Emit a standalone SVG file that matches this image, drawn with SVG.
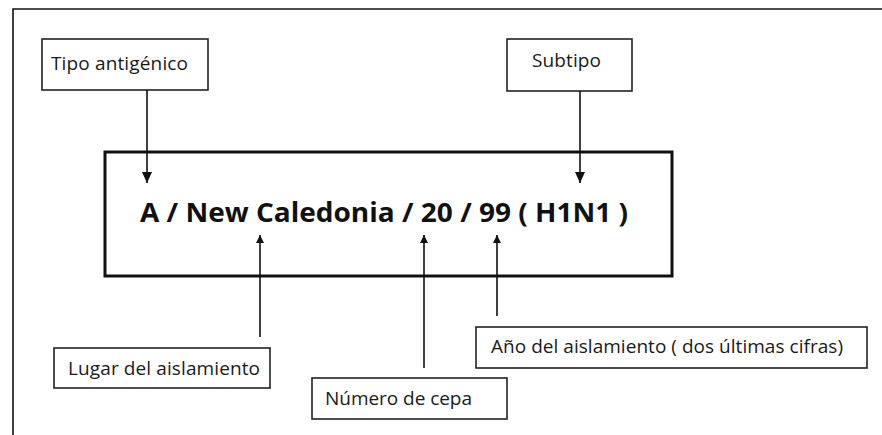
<svg xmlns="http://www.w3.org/2000/svg" width="882" height="435" viewBox="0 0 882 435">
<style>
.box{fill:#fff;stroke:#222;stroke-width:1.6}
.lbl{font-family:"Open Sans","Liberation Sans",sans-serif;font-size:19px;fill:#1a1a1a}
.main{font-family:"Open Sans","Liberation Sans",sans-serif;font-size:26px;font-weight:bold;fill:#111}
.con{stroke:#111;stroke-width:1.6;fill:none}
</style>
<defs>
<marker id="ah" markerUnits="userSpaceOnUse" markerWidth="12" markerHeight="10" refX="11" refY="5" orient="auto">
<path d="M0,0 L11,5 L0,10 z" fill="#111"/>
</marker>
<marker id="ahs" markerUnits="userSpaceOnUse" markerWidth="9" markerHeight="8" refX="8" refY="4" orient="auto">
<path d="M0,0 L8,4 L0,8 z" fill="#111"/>
</marker>
</defs>
<rect width="882" height="435" fill="#fff"/>
<g id="frame">
<path d="M13,435 L13,9 L882,9" fill="none" stroke="#111" stroke-width="1.6"/>
</g>
<g id="main">
<rect x="105" y="152" width="567" height="124" fill="#fff" stroke="#111" stroke-width="3"/>
<text class="main" x="140" y="222" textLength="488" lengthAdjust="spacingAndGlyphs">A / New Caledonia / 20 / 99 ( H1N1 )</text>
</g>
<g id="tipo">
<rect class="box" x="42" y="39" width="166" height="51"/>
<text class="lbl" x="51" y="70" textLength="137">Tipo antigénico</text>
</g>
<g id="subtipo">
<rect class="box" x="507" y="39" width="125" height="52"/>
<text class="lbl" x="532" y="67" textLength="69">Subtipo</text>
</g>
<g id="lugar">
<rect class="box" x="54" y="348" width="216" height="40"/>
<text class="lbl" x="68" y="375" textLength="192">Lugar del aislamiento</text>
</g>
<g id="numero">
<rect class="box" x="312" y="378" width="195" height="41"/>
<text class="lbl" x="325" y="405" textLength="147">Número de cepa</text>
</g>
<g id="anio">
<rect class="box" x="476" y="327" width="391" height="41"/>
<text class="lbl" x="491" y="353" textLength="352">Año del aislamiento ( dos últimas cifras)</text>
</g>
<g id="connectors">
<line class="con" x1="147" y1="90" x2="147" y2="183" marker-end="url(#ah)"/>
<line class="con" x1="580" y1="91" x2="580" y2="183" marker-end="url(#ah)"/>
<line class="con" x1="260" y1="337" x2="260" y2="235" marker-end="url(#ahs)"/>
<line class="con" x1="424" y1="368" x2="424" y2="235" marker-end="url(#ahs)"/>
<line class="con" x1="497" y1="316" x2="497" y2="235" marker-end="url(#ahs)" stroke="#444"/>
</g>
</svg>
